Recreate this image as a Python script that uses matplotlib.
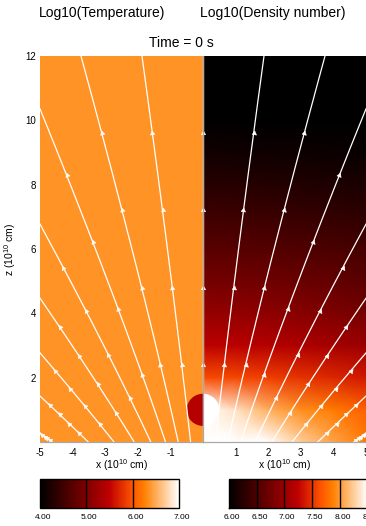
import numpy as np
import matplotlib
matplotlib.use('Agg')
import matplotlib.pyplot as plt
import matplotlib.transforms as mtransforms
from matplotlib.patches import Circle
from matplotlib.colors import Normalize
from matplotlib.cm import ScalarMappable

plt.rcParams['font.family'] = ['Liberation Sans', 'DejaVu Sans']
plt.rcParams['mathtext.fontset'] = 'custom'
plt.rcParams['mathtext.rm'] = 'Liberation Sans'
plt.rcParams['mathtext.it'] = 'Liberation Sans:italic'

# --- data (units of 10^10 cm) ---
grid_x = [0, 1, 2, 3, 4, 5]
grid_z = [0, 1, 2, 3, 4, 5, 6, 7, 8, 9, 10, 11, 12]
# log10 density number, rows = z, cols = x
log_density = [
    [9.00, 8.85, 8.50, 8.25, 8.05, 7.85],
    [9.00, 8.35, 8.10, 7.95, 7.85, 7.72],
    [7.62, 7.60, 7.56, 7.50, 7.44, 7.36],
    [7.24, 7.22, 7.19, 7.14, 7.08, 7.01],
    [6.97, 6.95, 6.92, 6.88, 6.83, 6.77],
    [6.77, 6.75, 6.72, 6.69, 6.65, 6.60],
    [6.58, 6.57, 6.55, 6.52, 6.49, 6.45],
    [6.42, 6.41, 6.39, 6.37, 6.34, 6.31],
    [6.26, 6.25, 6.24, 6.22, 6.20, 6.17],
    [6.12, 6.11, 6.10, 6.09, 6.07, 6.05],
    [6.00, 6.00, 5.99, 5.98, 5.97, 5.96],
    [5.92, 5.92, 5.92, 5.91, 5.91, 5.90],
    [5.85, 5.85, 5.85, 5.85, 5.85, 5.85],
]
corona_log_temp = 6.36
star_log_temp = 5.42
star_log_density = 9.0
star_center = (0.0, 1.0)
star_radius = 0.5

# field line footpoints |x| at z=0, plus the line along the axis
footpoints = [0.0, 0.38, 0.76, 1.15, 1.60, 2.11, 2.73, 3.52, 4.62]
flare_scale = 4.0
flare_power = 1.15

temp_range = (4.0, 7.0)
dens_range = (6.0, 8.5)
temp_ticks = [4.0, 5.0, 6.0, 7.0]
dens_ticks = [6.0, 6.5, 7.0, 7.5, 8.0, 8.5]

W, H = 366, 526
cmap = plt.get_cmap('gist_heat')
norm_t = Normalize(*temp_range)
norm_n = Normalize(*dens_range)

fig = plt.figure(figsize=(W / 100, H / 100), dpi=100)

ax_t = fig.add_axes([40 / W, 84 / H, 163 / W, 386 / H])
ax_n = fig.add_axes([203 / W, 84 / H, 163 / W, 386 / H])

# temperature: uniform corona + cooler star
ax_t.imshow([[corona_log_temp]], extent=(-5, 0, 0, 12), cmap=cmap, norm=norm_t,
            aspect='auto', origin='lower')
ax_t.add_patch(Circle(star_center, star_radius, facecolor=cmap(norm_t(star_log_temp)),
                      edgecolor='none', zorder=1.5))

# density
ax_n.pcolormesh(grid_x, grid_z, np.array(log_density), shading='gouraud',
                cmap=cmap, norm=norm_n)
ax_n.add_patch(Circle(star_center, star_radius, facecolor=cmap(norm_n(star_log_density)),
                      edgecolor='none', zorder=1.5))


def field_line(x0):
    a = abs(x0)
    if a > 0:
        z_end = min(12.0, flare_scale * ((5.0 / a) ** (1 / flare_power) - 1))
    else:
        z_end = 12.0
    z = np.linspace(0, z_end, 200)
    x = x0 * (1 + z / flare_scale) ** flare_power
    za = z_end * np.arange(1, 5) / 5.0
    xa = x0 * (1 + za / flare_scale) ** flare_power
    dx = x0 * flare_power / flare_scale * (1 + za / flare_scale) ** (flare_power - 1)
    ang = np.degrees(np.arctan2(1.0, dx)) - 90
    return x, z, xa, za, ang


for ax, sign in [(ax_t, -1), (ax_n, 1)]:
    for f in footpoints:
        x, z, xa, za, ang = field_line(sign * f)
        ax.plot(x, z, color='white', lw=0.9, zorder=2)
        for px, pz, a in zip(xa, za, ang):
            ax.plot(px, pz, marker=(3, 0, a), ms=3.8, color='white', mec='white',
                    mew=0.3, zorder=2)
    ax.set_ylim(0, 12)
    ax.tick_params(length=0, labelsize=7, pad=4)
    for s in ['top', 'left', 'right']:
        ax.spines[s].set_visible(False)
    ax.spines['bottom'].set_color('#a8a8a8')
    ax.spines['bottom'].set_linewidth(0.9)
    ax.set_xlabel('x (10$^{10}$ cm)', fontsize=7.5, labelpad=0)

ax_t.set_xlim(-5, 0)
ax_t.set_xticks([-5, -4, -3, -2, -1])
ax_t.set_xticklabels(['-5', '-4', '-3', '-2', '-1'])
ax_t.set_yticks([2, 4, 6, 8, 10, 12])
ax_t.tick_params(axis='y', pad=3)
ax_t.set_ylabel('z (10$^{10}$ cm)', fontsize=7.5, labelpad=5)

ax_n.set_xlim(0, 5)
ax_n.set_xticks([1, 2, 3, 4, 5])
ax_n.set_yticks([])
# grey divider between the two halves
ax_n.spines['left'].set_visible(True)
ax_n.spines['left'].set_color('#a8a8a8')
ax_n.spines['left'].set_linewidth(0.9)
ax_n.spines['left'].set_zorder(3)

fig.text(102.5 / W, 1 - 12.7 / H, 'Log10(Temperature)', ha='center', va='center', fontsize=10)
fig.text(273 / W, 1 - 12.7 / H, 'Log10(Density number)', ha='center', va='center', fontsize=10)
fig.text(181 / W, 1 - 42.7 / H, 'Time = 0 s', ha='center', va='center', fontsize=10)

# colour bars
shift = mtransforms.ScaledTranslation(3 / 100, 0, fig.dpi_scale_trans)
for left, nrm, ticks in [(40, norm_t, temp_ticks), (228.7, norm_n, dens_ticks)]:
    cax = fig.add_axes([left / W, 18 / H, 139 / W, 29 / H])
    cb = fig.colorbar(ScalarMappable(norm=nrm, cmap=cmap), cax=cax,
                      orientation='horizontal', ticks=ticks)
    cb.outline.set_edgecolor('black')
    cb.outline.set_linewidth(1.0)
    for t in ticks[1:-1]:
        cax.axvline(t, color='black', lw=1.0)
    cax.tick_params(length=0, labelsize=6, pad=4)
    cax.set_xticklabels(['%.2f' % t for t in ticks])
    for lab in cax.get_xticklabels():
        lab.set_transform(lab.get_transform() + shift)

fig.savefig('out.png', dpi=100)
